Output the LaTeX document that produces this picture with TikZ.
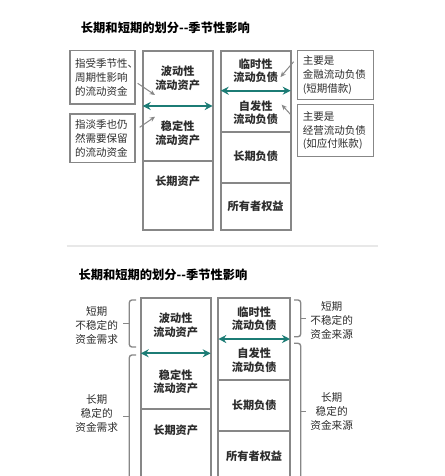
\documentclass[tikz,border=0pt]{standalone}
\usepackage{fontspec}
\setmainfont{Noto Sans CJK SC}
\usetikzlibrary{arrows.meta,calc}
\definecolor{boxgray}{RGB}{135,135,135}
\definecolor{txtgray}{RGB}{45,45,45}
\definecolor{tealarr}{RGB}{28,124,117}
\definecolor{sepgray}{RGB}{232,232,232}
\tikzset{
  colbox/.style={draw=boxgray, line width=1.4pt},
  ttl/.style={font=\bfseries\fontsize{9.2}{12}\selectfont, text=black, inner sep=0pt, anchor=west},
  lbl/.style={font=\bfseries\fontsize{8.4}{10}\selectfont, text=txtgray, align=center, inner sep=0.75pt},
  note/.style={draw=boxgray, line width=1pt, font=\fontsize{7.9}{10.3}\selectfont, text=txtgray, align=left, inner sep=0pt},
  side/.style={font=\fontsize{8}{10.5}\selectfont, text=txtgray, align=center, inner sep=0.75pt},
  tealboth/.style={{Stealth[length=6pt,width=6pt]}-{Stealth[length=6pt,width=6pt]}, draw=tealarr, line width=1.4pt},
  greyarr/.style={-{Stealth[length=4pt,width=3.5pt]}, draw=boxgray, line width=0.75pt},
  brc/.style={draw=boxgray, line width=1pt, rounded corners=2pt}
}

\begin{document}
\begin{tikzpicture}[x=0.75pt,y=0.75pt,yscale=-1,xscale=1]
\useasboundingbox (0,0) rectangle (444,476);
\fill[white] (0,0) rectangle (444,476);

% Upper panel
\node[ttl] (title1) at (80.7,28) {长期和短期的划分-{}-季节性影响};

% Column boxes
\draw[colbox] (142.7,50.7) rectangle (212.7,230) (142.7,160.7) -- (212.7,160.7);
\draw[colbox] (220.7,50.7) rectangle (290.7,230) (220.7,131.7) -- (290.7,131.7) (220.7,182.7) -- (290.7,182.7);

% Column labels
\node[lbl] (fluct1) at (177.7,78.3) {波动性\\流动资产};
\node[lbl] (stable1) at (177.7,133.3) {稳定性\\流动资产};
\node[lbl] (ltasset1) at (177.7,181.7) {长期资产};
\node[lbl] (temp1) at (255.7,70.8) {临时性\\流动负债};
\node[lbl] (spont1) at (255.7,112.5) {自发性\\流动负债};
\node[lbl] (ltdebt1) at (255.7,156.7) {长期负债};
\node[lbl] (equity1) at (255.7,206.7) {所有者权益};

% Teal arrows
\coordinate (la1) at (142.7,106);
\coordinate (lb1) at (212.7,106);
\coordinate (ra1) at (220.7,90.7);
\coordinate (rb1) at (290.7,90.7);
\draw[tealboth] (la1) -- (lb1);
\draw[tealboth] (ra1) -- (rb1);

% Note boxes
\node[note, minimum width=48.75pt, minimum height=40pt, text width=41.25pt] (note1) at (102.5,77.3) {指受季节性、\\周期性影响\\的流动资金};
\node[note, minimum width=48.75pt, minimum height=36.5pt, text width=41.25pt] (note2) at (102.5,138.3) {指淡季也仍\\然需要保留\\的流动资金};
\node[note, minimum width=57pt, minimum height=36.5pt, text width=48.75pt] (note3) at (335.3,75) {主要是\\金融流动负债\\(短期借款)};
\node[note, minimum width=57pt, minimum height=39pt, text width=48.75pt] (note4) at (335.3,130.7) {主要是\\经营流动负债\\(如应付账款)};

% Grey pointers
\coordinate (g1) at (155,95);
\coordinate (g2) at (155,116.7);
\coordinate (g3) at (280.5,77);
\coordinate (g4) at (281.7,104.7);
\draw[greyarr] ($(note1.east)+(2,6)$) -- (g1);
\draw[greyarr] ($(note2.east)+(4,-11)$) -- (g2);
\draw[greyarr] ($(note3.west)+(-3,-13.3)$) -- (g3);
\draw[greyarr] ($(note4.west)+(-5.6,-15.7)$) -- (g4);

% Separator
\draw[sepgray, line width=1.5pt] (66.7,245.7) -- (378,245.7);

% Lower panel
\node[ttl] (title2) at (78.3,275) {长期和短期的划分-{}-季节性影响};

\draw[colbox] (140.7,298.3) rectangle (210.7,480) (140.7,409.3) -- (210.7,409.3);
\draw[colbox] (218.3,298.3) rectangle (290,480) (218.3,380) -- (290,380) (218.3,431) -- (290,431);

\node[lbl] (fluct2) at (175.7,325.3) {波动性\\流动资产};
\node[lbl] (stable2) at (175.7,381.7) {稳定性\\流动资产};
\node[lbl] (ltasset2) at (175.7,430.7) {长期资产};
\node[lbl] (temp2) at (254.2,318.8) {临时性\\流动负债};
\node[lbl] (spont2) at (254.2,360.3) {自发性\\流动负债};
\node[lbl] (ltdebt2) at (254.2,405.7) {长期负债};
\node[lbl] (equity2) at (254.2,456) {所有者权益};

\coordinate (la2) at (140.7,353.3);
\coordinate (lb2) at (210.7,353.3);
\coordinate (ra2) at (218.3,339);
\coordinate (rb2) at (290,339);
\draw[tealboth] (la2) -- (lb2);
\draw[tealboth] (ra2) -- (rb2);

% Brackets
\draw[brc] (136,300) -- (129.3,300) -- (129.3,347) -- (136,347);
\draw[brc] (123.3,323.3) -- (129.3,323.3);
\draw[brc] (136,355) -- (129.3,355) -- (129.3,480);
\draw[brc] (123.3,416.7) -- (129.3,416.7);
\draw[brc] (294,300) -- (300.7,300) -- (300.7,336.7) -- (294,336.7);
\draw[brc] (300.7,318.3) -- (305.5,318.3);
\draw[brc] (294,343.3) -- (300.7,343.3) -- (300.7,480);
\draw[brc] (300.7,411.7) -- (305.5,411.7);

\node[side] (sdemand) at (96.7,325) {短期\\不稳定的\\资金需求};
\node[side] (ldemand) at (96.7,413.3) {长期\\稳定的\\资金需求};
\node[side] (ssource) at (331.7,320.7) {短期\\不稳定的\\资金来源};
\node[side] (lsource) at (331.7,411.7) {长期\\稳定的\\资金来源};

\end{tikzpicture}
\end{document}
